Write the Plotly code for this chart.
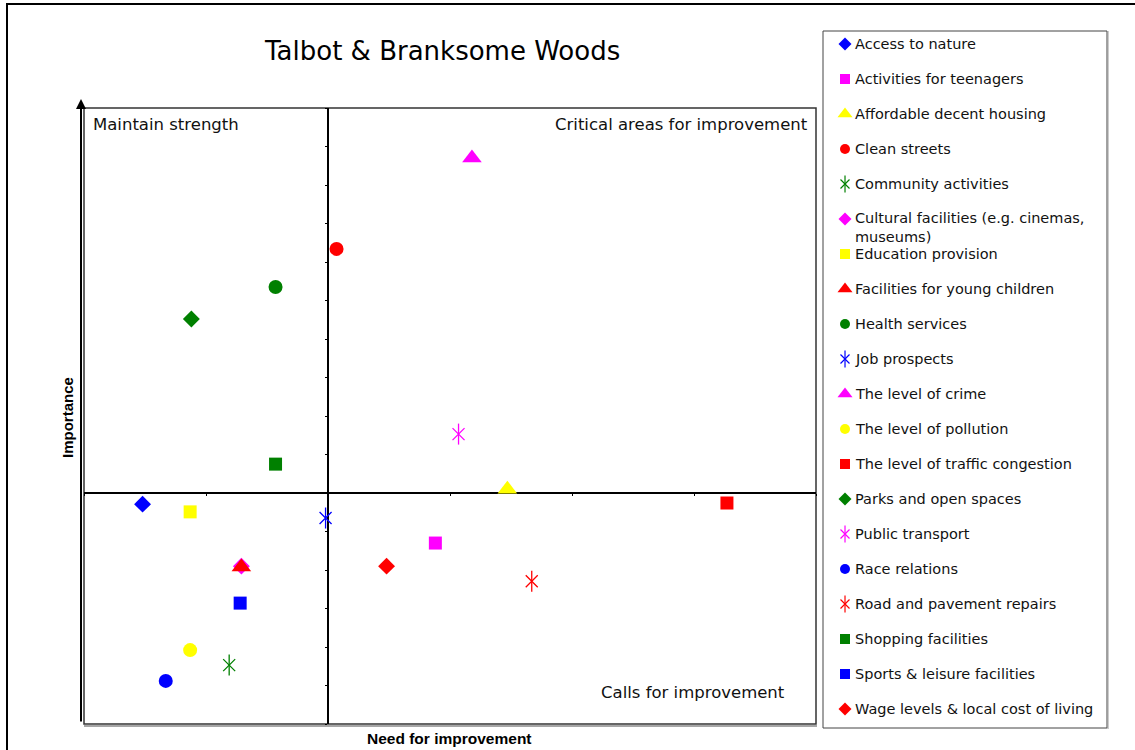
import plotly.graph_objects as go

W, H = 1135, 750

categories = [
    "Access to nature", "Activities for teenagers", "Affordable decent housing",
    "Clean streets", "Community activities", "Cultural facilities (e.g. cinemas, museums)",
    "Education provision", "Facilities for young children", "Health services",
    "Job prospects", "The level of crime", "The level of pollution",
    "The level of traffic congestion", "Parks and open spaces", "Public transport",
    "Race relations", "Road and pavement repairs", "Shopping facilities",
    "Sports & leisure facilities", "Wage levels & local cost of living",
]
need = [-1.52, 0.88, 1.47, 0.07, -0.81, -0.71, -1.13, -0.71, -0.43, -0.02,
        1.18, -1.13, 3.27, -1.12, 1.07, -1.33, 1.67, -0.43, -0.72, 0.48]
importance = [-0.29, -1.30, 0.10, 6.34, -4.47, -1.90, -0.49, -1.92, 5.35, -0.65,
              8.70, -4.08, -0.26, 4.52, 1.53, -4.88, -2.29, 0.75, -2.86, -1.90]
colors = ["#0000FF", "#FF00FF", "#FFFF00", "#FF0000", "#008000", "#FF00FF",
          "#FFFF00", "#FF0000", "#008000", "#0000FF", "#FF00FF", "#FFFF00",
          "#FF0000", "#008000", "#FF00FF", "#0000FF", "#FF0000", "#008000",
          "#0000FF", "#FF0000"]
shapes_ = ["diamond", "square", "triangle-up", "circle", "star", "diamond",
           "square", "triangle-up", "circle", "star", "triangle-up", "circle",
           "square", "diamond", "star", "circle", "star", "square", "square", "diamond"]

x_range = [-2, 4]
y_range = [-6, 10]

# pixel layout
px_l, px_r, px_t, px_b = 84, 816, 108, 724
xd = [px_l / W, px_r / W]
yd = [(H - px_b) / H, (H - px_t) / H]
xpos0 = xd[0] + (0 - x_range[0]) / (x_range[1] - x_range[0]) * (xd[1] - xd[0])
ypos0 = yd[0] + (0 - y_range[0]) / (y_range[1] - y_range[0]) * (yd[1] - yd[0])

fig = go.Figure()

sizes = {"diamond": 13, "square": 13, "triangle-up": 17, "circle": 14}
for i, cat in enumerate(categories):
    s = shapes_[i]
    if s == "star":
        for sym in ["x-thin-open", "line-ns-open"]:
            fig.add_trace(go.Scatter(
                x=[need[i]], y=[importance[i]], mode="markers", name=cat,
                showlegend=False, hoverinfo="name",
                marker=dict(symbol=sym, size=15 if sym == "line-ns-open" else 12,
                            color=colors[i], line=dict(color=colors[i], width=1.3)),
                xaxis="x", yaxis="y"))
    else:
        fig.add_trace(go.Scatter(
            x=[need[i]], y=[importance[i]], mode="markers", name=cat,
            showlegend=False,
            marker=dict(symbol=s, size=sizes[s], color=colors[i], line=dict(width=0)),
            xaxis="x", yaxis="y"))

# manual legend
for i, cat in enumerate(categories):
    s = shapes_[i]
    if s == "star":
        for sym in ["x-thin-open", "line-ns-open"]:
            fig.add_trace(go.Scatter(
                x=[0.0775], y=[i], mode="markers", showlegend=False, hoverinfo="skip",
                marker=dict(symbol=sym, size=12 if sym == "line-ns-open" else 9,
                            color=colors[i], line=dict(color=colors[i], width=1.2)),
                xaxis="x2", yaxis="y2"))
    else:
        fig.add_trace(go.Scatter(
            x=[0.0775], y=[i], mode="markers", showlegend=False, hoverinfo="skip",
            marker=dict(symbol=s, size=10 if s != "triangle-up" else 13,
                        color=colors[i], line=dict(width=0)),
            xaxis="x2", yaxis="y2"))

annotations = []
font_leg = dict(family="DejaVu Sans", size=14.5, color="#111111")
for i, cat in enumerate(categories):
    if len(cat) > 36 and "," in cat:
        a, b = cat.split(", ", 1)
        text = a + ",<br>" + b
        annotations.append(dict(x=0.106, y=i, xref="x2", yref="y2", text=text,
                                showarrow=False, xanchor="left", yanchor="top",
                                yshift=11, align="left", font=font_leg))
    else:
        annotations.append(dict(x=0.106, y=i, xref="x2", yref="y2", text=cat,
                                showarrow=False, xanchor="left", yanchor="middle",
                                font=font_leg))

def fx(p):
    return p / W

def fy(p):
    return (H - p) / H

font_q = dict(family="DejaVu Sans", size=16.5, color="#111111")
annotations += [
    dict(x=fx(442), y=fy(51), xref="paper", yref="paper", text="Talbot &amp; Branksome Woods",
         showarrow=False, xanchor="center", yanchor="middle",
         font=dict(family="DejaVu Sans", size=26, color="#000000")),
    dict(x=fx(91), y=fy(125), xref="paper", yref="paper", text="Maintain strength",
         showarrow=False, xanchor="left", yanchor="middle", font=font_q),
    dict(x=fx(810), y=fy(125), xref="paper", yref="paper", text="Critical areas for improvement",
         showarrow=False, xanchor="right", yanchor="middle", font=font_q),
    dict(x=fx(787), y=fy(692), xref="paper", yref="paper", text="Calls for improvement",
         showarrow=False, xanchor="right", yanchor="middle", font=font_q),
    dict(x=fx(450), y=fy(738), xref="paper", yref="paper", text="<b>Need for improvement</b>",
         showarrow=False, xanchor="center", yanchor="middle",
         font=dict(family="Liberation Sans", size=15.5, color="#000000")),
    dict(x=fx(67), y=fy(418), xref="paper", yref="paper", text="<b>Importance</b>",
         showarrow=False, xanchor="center", yanchor="middle", textangle=-90,
         font=dict(family="Liberation Sans", size=15, color="#000000")),
    # y arrow
    dict(x=fx(81), y=fy(99), xref="paper", yref="paper", ax=0, ay=624,
         axref="pixel", ayref="pixel", text="", showarrow=True, arrowhead=2,
         arrowsize=1, arrowwidth=2, arrowcolor="#000000"),
]

shapes = [
    dict(type="rect", xref="paper", yref="paper", x0=fx(7), y0=fy(4), x1=fx(1140), y1=fy(760),
         line=dict(color="#000000", width=2)),
    dict(type="rect", xref="paper", yref="paper", x0=fx(84), y0=fy(724), x1=fx(816), y1=fy(108),
         line=dict(color="#333333", width=1.5), layer="below"),
    dict(type="line", xref="paper", yref="paper", x0=fx(84), y0=fy(726), x1=fx(817), y1=fy(726),
         line=dict(color="#888888", width=1.5)),
    dict(type="rect", xref="paper", yref="paper", x0=fx(823), y0=fy(728), x1=fx(1107), y1=fy(31),
         line=dict(color="#444444", width=1)),
    dict(type="line", xref="paper", yref="paper", x0=fx(1108), y0=fy(31), x1=fx(1108), y1=fy(729),
         line=dict(color="#999999", width=1)),
]

fig.update_layout(
    width=W, height=H,
    margin=dict(l=0, r=0, t=0, b=0),
    paper_bgcolor="white", plot_bgcolor="white",
    showlegend=False,
    xaxis=dict(domain=xd, range=x_range, anchor="free", position=ypos0,
               showgrid=False, zeroline=False, showline=True, linecolor="#000000",
               linewidth=1.5, ticks="outside", ticklen=2, tickcolor="#000000",
               dtick=1, tick0=0, showticklabels=False, fixedrange=True,
               layer="below traces"),
    yaxis=dict(domain=yd, range=y_range, anchor="free", position=xpos0,
               showgrid=False, zeroline=False, showline=True, linecolor="#000000",
               linewidth=1.5, ticks="outside", ticklen=2, tickcolor="#000000",
               dtick=1, tick0=0, showticklabels=False, fixedrange=True,
               layer="below traces"),
    xaxis2=dict(domain=[823 / W, 1107 / W], range=[0, 1], anchor="y2",
                visible=False, fixedrange=True),
    yaxis2=dict(domain=[(H - 728) / H, (H - 31) / H], range=[19.543, -0.371], anchor="x2",
                visible=False, fixedrange=True),
    annotations=annotations,
    shapes=shapes,
)

fig.write_html("out.html", config={"displayModeBar": False},
               post_script="document.body.style.margin='0';document.body.style.overflow='hidden';")
